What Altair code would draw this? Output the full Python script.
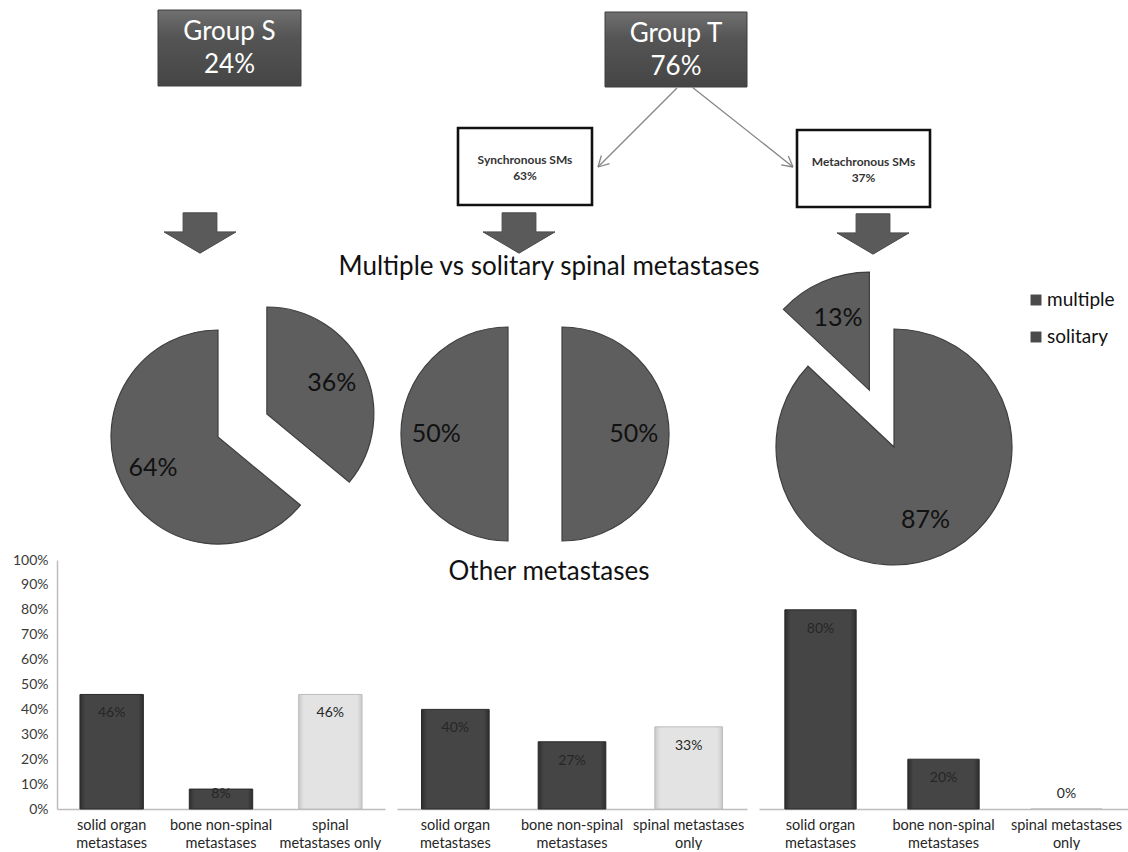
import math
import altair as alt
import pandas as pd

# ---------------- values ----------------
group_labels = ["Group S", "Group T"]
group_shares = ["24%", "76%"]
timing_labels = ["Synchronous SMs", "Metachronous SMs"]
timing_shares = ["63%", "37%"]

pie_names = ["Group S", "Synchronous SMs", "Metachronous SMs"]
pie_parts = ["multiple", "solitary"]
pct_multiple = [36, 50, 87]
pct_solitary = [64, 50, 13]

bar_categories = ["solid organ metastases", "bone non-spinal metastases", "spinal metastases only"]
bar_group_s = [0.46, 0.08, 0.46]
bar_synchronous = [0.40, 0.27, 0.33]
bar_metachronous = [0.80, 0.20, 0.00]
y_tick_values = [0.0, 0.1, 0.2, 0.3, 0.4, 0.5, 0.6, 0.7, 0.8, 0.9, 1.0]

labels_panel1 = ["solid organ|metastases", "bone non-spinal|metastases", "spinal|metastases only"]
labels_panel23 = ["solid organ|metastases", "bone non-spinal|metastases", "spinal metastases|only"]

title_pies = "Multiple vs solitary spinal metastases"
title_bars = "Other metastases"

# ---------------- layout (canvas pixels) ----------------
W = 1128
LEFT = 57
TOP_H = 556
GAP = 4
BAR_H = 249
PANEL_W = [328, 350, 369]
FONT = "Lato"

group_box_x0 = [158, 605]
group_box_x1 = [301, 747]
group_box_y0 = [10, 12]
group_box_y1 = [86, 87]
timing_box_x0 = [458, 797]
timing_box_x1 = [592, 930]
timing_box_y0 = [128, 130]
timing_box_y1 = [205, 207]
link_x0 = [677, 692]
link_y0 = [88, 87]
link_x1 = [598, 793]
link_y1 = [167, 167]
block_arrow_x = [200, 519, 873]
block_arrow_y = [233, 233, 234]
pie_cx = [218, 535, 894]
pie_cy = [437, 434, 447]
pie_r = [107, 107, 118]
explode_multiple = [54, 27, 0]
explode_solitary = [0, 27, 62]
legend_y = [300, 337]

xs = alt.Scale(domain=[LEFT, W], nice=False, zero=False)
ys = alt.Scale(domain=[0, TOP_H], reverse=True, nice=False, zero=False)


def X(f):
    return alt.X(f, type="quantitative", scale=xs, axis=None)


def Y(f):
    return alt.Y(f, type="quantitative", scale=ys, axis=None)


# ---------------- diagram ----------------
anchor = alt.Chart(pd.DataFrame({"a": [0], "b": [1]})).mark_rect(
    fill="white", opacity=1
).encode(x=X("a"), x2="b:Q", y=Y("a"), y2="b:Q")

gb = pd.DataFrame({"x0": group_box_x0, "x1": group_box_x1, "y0": group_box_y0,
                   "y1": group_box_y1, "name": group_labels, "share": group_shares})
box_grad = alt.Gradient(gradient="linear", x1=0, y1=0, x2=0, y2=1,
                        stops=[alt.GradientStop(color="#707070", offset=0),
                               alt.GradientStop(color="#555555", offset=0.35),
                               alt.GradientStop(color="#454545", offset=1)])
group_rect = alt.Chart(gb).mark_rect(fill=box_grad, stroke="#3e3e3e", strokeWidth=1).encode(
    x=X("x0"), x2="x1:Q", y=Y("y0"), y2="y1:Q")
gbase = alt.Chart(gb).transform_calculate(
    xc="(datum.x0 + datum.x1) / 2", yc="(datum.y0 + datum.y1) / 2",
    ya="datum.yc - 16", yb="datum.yc + 17")
group_t1 = gbase.mark_text(font=FONT, fontSize=26, color="white").encode(x=X("xc"), y=Y("ya"), text="name:N")
group_t2 = gbase.mark_text(font=FONT, fontSize=26, color="white").encode(x=X("xc"), y=Y("yb"), text="share:N")

tb = pd.DataFrame({"x0": timing_box_x0, "x1": timing_box_x1, "y0": timing_box_y0,
                   "y1": timing_box_y1, "name": timing_labels, "share": timing_shares})
timing_rect = alt.Chart(tb).mark_rect(fill="white", stroke="#111111", strokeWidth=2.6).encode(
    x=X("x0"), x2="x1:Q", y=Y("y0"), y2="y1:Q")
tbase = alt.Chart(tb).transform_calculate(
    xc="(datum.x0 + datum.x1) / 2", yc="(datum.y0 + datum.y1) / 2",
    ya="datum.yc - 7", yb="datum.yc + 9")
timing_t1 = tbase.mark_text(font=FONT, fontSize=12, fontWeight="bold", color="#333333").encode(
    x=X("xc"), y=Y("ya"), text="name:N")
timing_t2 = tbase.mark_text(font=FONT, fontSize=12, fontWeight="bold", color="#333333").encode(
    x=X("xc"), y=Y("yb"), text="share:N")

seg_rows = []
for i in range(len(link_x0)):
    ax, ay, bx, by = link_x0[i], link_y0[i], link_x1[i], link_y1[i]
    seg_rows.append({"xa": ax, "ya": ay, "xb": bx, "yb": by})
    ang = math.atan2(by - ay, bx - ax)
    for s in (-1, 1):
        seg_rows.append({"xa": bx, "ya": by,
                         "xb": bx - 12 * math.cos(ang + s * 0.5),
                         "yb": by - 12 * math.sin(ang + s * 0.5)})
links = alt.Chart(pd.DataFrame(seg_rows)).mark_rule(color="#858585", strokeWidth=1.3).encode(
    x=X("xa"), y=Y("ya"), x2="xb:Q", y2="yb:Q")

arrow_path = "M -0.47 -0.56 L 0.47 -0.56 L 0.47 -0.03 L 1 -0.03 L 0 0.56 L -1 -0.03 L -0.47 -0.03 Z"
block_arrows = alt.Chart(pd.DataFrame({"x": block_arrow_x, "y": block_arrow_y})).mark_point(
    shape=arrow_path, size=72 * 72, filled=True, fill="#5a5a5a", stroke="#4a4a4a",
    strokeWidth=1, opacity=1
).encode(x=X("x"), y=Y("y"))

pie_title = alt.Chart(pd.DataFrame({"t": [title_pies], "x": [549], "y": [267]})).mark_text(
    font=FONT, fontSize=26, color="#111111").encode(x=X("x"), y=Y("y"), text="t:N")

rows = []
for i, name in enumerate(pie_names):
    for j, (part, vals, ex) in enumerate(zip(pie_parts, [pct_multiple, pct_solitary],
                                             [explode_multiple, explode_solitary])):
        rows.append({"pie": name, "part": part, "value": vals[i], "order": j,
                     "cx": pie_cx[i], "cy": pie_cy[i], "r": pie_r[i], "ex": ex[i]})
pie_df = pd.DataFrame(rows)

pie_base = alt.Chart(pie_df).transform_joinaggregate(
    total="sum(value)", groupby=["pie"]
).transform_window(
    cum="sum(value)", groupby=["pie"], sort=[alt.SortField("order")], frame=[None, 0]
).transform_calculate(
    t1="2 * PI * datum.cum / datum.total"
).transform_calculate(
    t0="2 * PI * (datum.cum - datum.value) / datum.total"
).transform_calculate(
    mid="(datum.t0 + datum.t1) / 2"
).transform_calculate(
    sx="datum.cx + datum.ex * sin(datum.mid)",
    sy="datum.cy - datum.ex * cos(datum.mid)"
).transform_calculate(
    lx="datum.sx + 0.67 * datum.r * sin(datum.mid)",
    ly="datum.sy - 0.67 * datum.r * cos(datum.mid)",
    label="datum.value + '%'"
)
pie_arcs = pie_base.mark_arc(fill="#5e5e5e", stroke="#3f3f3f", strokeWidth=1.2).encode(
    x=X("sx"), y=Y("sy"),
    theta=alt.Theta("t0:Q", scale=None, stack=None),
    theta2="t1:Q",
    radius=alt.Radius("r:Q", scale=None),
)
pie_labels = pie_base.mark_text(font=FONT, fontSize=25, color="#111111").encode(
    x=X("lx"), y=Y("ly"), text="label:N")

leg_df = pd.DataFrame({"part": pie_parts, "y": legend_y, "xs": [1036, 1036], "xt": [1047, 1047]})
legend_sq = alt.Chart(leg_df).mark_square(size=120, filled=True, color="#4a4a4a", opacity=1).encode(
    x=X("xs"), y=Y("y"))
legend_tx = alt.Chart(leg_df).mark_text(font=FONT, fontSize=19, color="#111111", align="left").encode(
    x=X("xt"), y=Y("y"), text="part:N")

top = alt.layer(
    anchor, group_rect, group_t1, group_t2, links, timing_rect, timing_t1, timing_t2,
    block_arrows, pie_title, pie_arcs, pie_labels, legend_sq, legend_tx
).properties(width=W - LEFT, height=TOP_H)

# ---------------- bar panels ----------------
dark_grad = alt.Gradient(gradient="linear", x1=0, y1=0, x2=1, y2=0,
                         stops=[alt.GradientStop(color="#2e2e2e", offset=0),
                                alt.GradientStop(color="#454545", offset=0.08),
                                alt.GradientStop(color="#454545", offset=0.92),
                                alt.GradientStop(color="#2e2e2e", offset=1)])
light_grad = alt.Gradient(gradient="linear", x1=0, y1=0, x2=1, y2=0,
                          stops=[alt.GradientStop(color="#c9c9c9", offset=0),
                                 alt.GradientStop(color="#e3e3e3", offset=0.08),
                                 alt.GradientStop(color="#e3e3e3", offset=0.92),
                                 alt.GradientStop(color="#c9c9c9", offset=1)])

y_axis = alt.Axis(values=y_tick_values, format=".0%", title=None, grid=False, ticks=False,
                  domain=True, domainColor="#bdbdbd", domainWidth=1.5, labelFont=FONT,
                  labelFontSize=14, labelColor="#3a3a3a", labelPadding=9, labelFlush=False,
                  labelOverlap=False)


def panel(values, labels, width, with_axis, extra=None):
    df = pd.DataFrame({"cat": labels, "v": values, "kind": ["dark", "dark", "light"]})
    x = alt.X("cat:N", scale=alt.Scale(domain=labels, paddingInner=0.42, paddingOuter=0.21),
              axis=alt.Axis(title=None, labelAngle=0, ticks=False, domainColor="#bdbdbd",
                            domainWidth=1.5, labelExpr="split(datum.label, '|')",
                            labelFont=FONT, labelFontSize=14.5, labelColor="#262626",
                            labelPadding=9, labelLineHeight=18, labelLimit=220,
                            labelBaseline="top"))
    ysc = alt.Scale(domain=[0, 1], nice=False, zero=True)
    ax = y_axis if with_axis else None
    base = alt.Chart(df).encode(x=x)
    dark = base.transform_filter("datum.kind == 'dark'").mark_bar(
        fill=dark_grad, stroke="#2a2a2a", strokeWidth=1).encode(y=alt.Y("v:Q", scale=ysc, axis=ax))
    light = base.transform_filter("datum.kind == 'light'").mark_bar(
        fill=light_grad, stroke="#bdbdbd", strokeWidth=1).encode(y=alt.Y("v:Q", scale=ysc, axis=ax))
    txt = base.transform_calculate(
        ly="max(datum.v - 0.076, 0.06)", t="format(datum.v, '.0%')"
    ).mark_text(font=FONT, fontSize=14, color="#262626").encode(
        y=alt.Y("ly:Q", scale=ysc, axis=ax), text="t:N")
    layers = [dark, light, txt]
    if extra is not None:
        layers.append(extra)
    return alt.layer(*layers).properties(width=width, height=BAR_H)


other_title = alt.Chart(pd.DataFrame({"t": [title_bars]})).mark_text(
    font=FONT, fontSize=26, color="#111111").encode(
    x=alt.value(152), y=alt.value(12), text="t:N")

p1 = panel(bar_group_s, labels_panel1, PANEL_W[0], True)
p2 = panel(bar_synchronous, labels_panel23, PANEL_W[1], False, other_title)
p3 = panel(bar_metachronous, labels_panel23, PANEL_W[2], False)

bottom = alt.hconcat(p1, p2, p3, spacing=12, bounds="flush")

chart = alt.vconcat(top, bottom, spacing=GAP, bounds="flush").properties(
    padding=0, background="white"
).configure(font=FONT).configure_view(stroke="transparent", strokeWidth=0)

chart.save("out.html", embed_options={"renderer": "svg", "actions": False})
